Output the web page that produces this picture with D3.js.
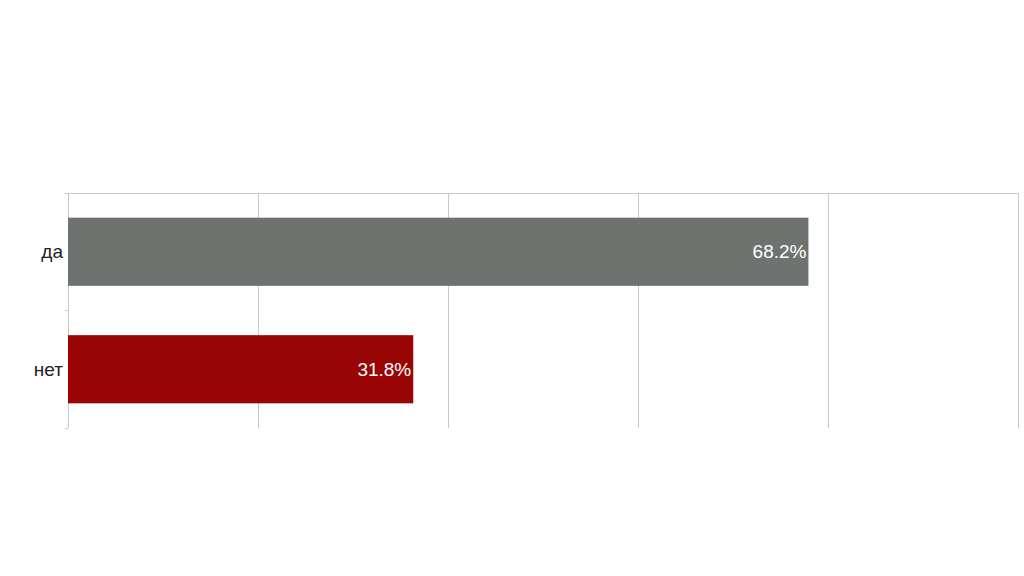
<!DOCTYPE html>
<html><head><meta charset="utf-8">
<script src="https://cdn.jsdelivr.net/npm/d3@7"></script>
<style>body{margin:0;background:#fff}svg{display:block}</style>
</head><body>
<svg id="c" width="1024" height="576"></svg>
<script>
const categories = ["да", "нет"];
const values = [68.2, 31.8];
const labels = ["68.2%", "31.8%"];
const colors = ["#6e7370", "#990505"];
const tickValues = [0, 17.5, 35, 52.5, 70, 87.5];

const svg = d3.select("#c");
const m = {left: 68, right: 1018, top: 193, bottom: 428};
const x = d3.scaleLinear().domain([0, 87.5]).range([m.left, m.right]);
const y = d3.scaleBand().domain(categories).range([m.top, m.bottom]).paddingInner(0.42).paddingOuter(0.21);

const grid = "#c9c9c9";
svg.append("g").selectAll("line").data(tickValues).join("line")
  .attr("x1", d => x(d)).attr("x2", d => x(d))
  .attr("y1", m.top).attr("y2", m.bottom)
  .attr("stroke", grid).attr("stroke-width", 1).attr("shape-rendering","crispEdges");
svg.append("line").attr("x1", m.left).attr("x2", m.right).attr("y1", m.top).attr("y2", m.top)
  .attr("stroke", grid).attr("shape-rendering","crispEdges");
const bounds = [m.top, (m.top + m.bottom) / 2, m.bottom];
svg.append("g").selectAll("line").data(bounds).join("line")
  .attr("x1", m.left - 3).attr("x2", m.left).attr("y1", d => d).attr("y2", d => d)
  .attr("stroke", grid).attr("shape-rendering","crispEdges");

svg.append("g").selectAll("rect").data(categories).join("rect")
  .attr("x", x(0)).attr("y", d => y(d))
  .attr("width", (d, i) => x(values[i]) - x(0))
  .attr("height", y.bandwidth())
  .attr("fill", (d, i) => colors[i]);

svg.append("g").selectAll("text").data(categories).join("text")
  .attr("x", m.left - 5).attr("y", d => y(d) + y.bandwidth() / 2)
  .attr("dy", "0.33em").attr("text-anchor", "end")
  .attr("font-family", "Liberation Sans, Arial, sans-serif").attr("font-size", 19)
  .attr("fill", "#222").text(d => d);

svg.append("g").selectAll("text").data(categories).join("text")
  .attr("x", (d, i) => x(values[i]) - 2).attr("y", d => y(d) + y.bandwidth() / 2)
  .attr("dy", "0.33em").attr("text-anchor", "end")
  .attr("font-family", "Liberation Sans, Arial, sans-serif").attr("font-size", 19)
  .attr("fill", "#fff").text((d, i) => labels[i]);
</script>
</body></html>
